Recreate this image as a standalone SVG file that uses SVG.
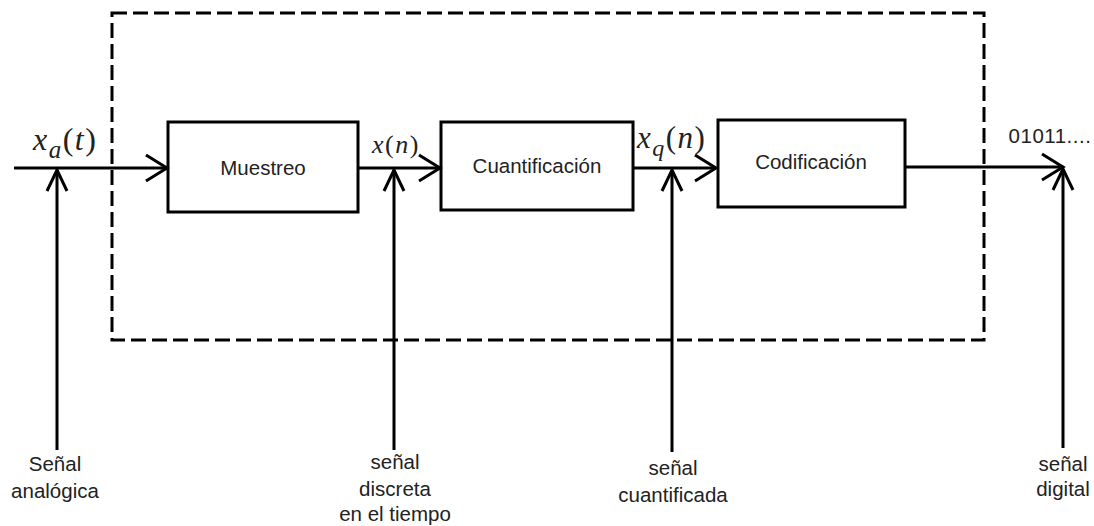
<svg xmlns="http://www.w3.org/2000/svg" width="1094" height="526" viewBox="0 0 1094 526">
  <style>
    .box { fill: #fff; stroke: #000; stroke-width: 3; }
    .wire { fill: none; stroke: #000; stroke-width: 3; }
    .head { fill: none; stroke: #000; stroke-width: 3; stroke-linejoin: miter; }
    .frame { fill: none; stroke: #000; stroke-width: 3; stroke-dasharray: 15 6; }
    .lbl { font-family: "Liberation Sans", Arial, sans-serif; font-size: 20.5px; fill: #222; text-anchor: middle; }
    .math { font-family: "Liberation Serif", "Times New Roman", serif; font-style: italic; fill: #222; letter-spacing: 1.5px; }
  </style>

  <!-- dashed system boundary -->
  <rect class="frame" x="112" y="13" width="872" height="327"/>

  <g id="muestreo">
    <rect class="box" x="168" y="122" width="190" height="90"/>
    <text class="lbl" x="263" y="175">Muestreo</text>
  </g>
  <g id="cuantificacion">
    <rect class="box" x="441" y="122" width="192" height="88"/>
    <text class="lbl" x="537" y="173">Cuantificación</text>
  </g>
  <g id="codificacion">
    <rect class="box" x="718" y="120" width="187" height="87"/>
    <text class="lbl" x="811" y="169">Codificación</text>
  </g>

  <g id="connectors">
    <!-- signal path -->
    <line class="wire" x1="14" y1="168" x2="167" y2="168"/>
    <polyline class="head" points="146,155 167,168 146,181"/>
    <line class="wire" x1="358" y1="168" x2="440" y2="168"/>
    <polyline class="head" points="419,155 440,168 419,181"/>
    <line class="wire" x1="633" y1="168" x2="716" y2="168"/>
    <polyline class="head" points="695,155 716,168 695,181"/>
    <line class="wire" x1="905" y1="167" x2="1063" y2="167"/>
    <polyline class="head" points="1042,154 1063,167 1042,180"/>
    <!-- pointers from the bottom labels -->
    <line class="wire" x1="57" y1="450" x2="57" y2="170"/>
    <polyline class="head" points="47,191 57,170 67,191"/>
    <line class="wire" x1="394" y1="450" x2="394" y2="170"/>
    <polyline class="head" points="384,191 394,170 404,191"/>
    <line class="wire" x1="672" y1="452" x2="672" y2="170"/>
    <polyline class="head" points="662,191 672,170 682,191"/>
    <line class="wire" x1="1063" y1="448" x2="1063" y2="169"/>
    <polyline class="head" points="1053,190 1063,169 1073,190"/>
  </g>

  <g id="signal-labels">
    <text class="math" x="33" y="150" font-size="32">x<tspan font-size="25" dy="8">a</tspan><tspan font-style="normal" dy="-8">(</tspan>t<tspan font-style="normal">)</tspan></text>
    <text class="math" x="372" y="153" font-size="26">x<tspan font-style="normal">(</tspan>n<tspan font-style="normal">)</tspan></text>
    <text class="math" x="637" y="148" font-size="31">x<tspan font-size="24" dy="8">q</tspan><tspan font-style="normal" dy="-8">(</tspan>n<tspan font-style="normal">)</tspan></text>
    <text class="lbl" x="1050" y="143" font-size="22" letter-spacing="0.5">01011....</text>
  </g>

  <g id="label-analogica">
    <text class="lbl" x="55" y="471">Señal</text>
    <text class="lbl" x="55" y="498">analógica</text>
  </g>
  <g id="label-discreta">
    <text class="lbl" x="395" y="469">señal</text>
    <text class="lbl" x="395" y="496">discreta</text>
    <text class="lbl" x="395" y="521">en el tiempo</text>
  </g>
  <g id="label-cuantificada">
    <text class="lbl" x="673" y="475">señal</text>
    <text class="lbl" x="673" y="502">cuantificada</text>
  </g>
  <g id="label-digital">
    <text class="lbl" x="1063" y="471">señal</text>
    <text class="lbl" x="1063" y="496">digital</text>
  </g>
</svg>
